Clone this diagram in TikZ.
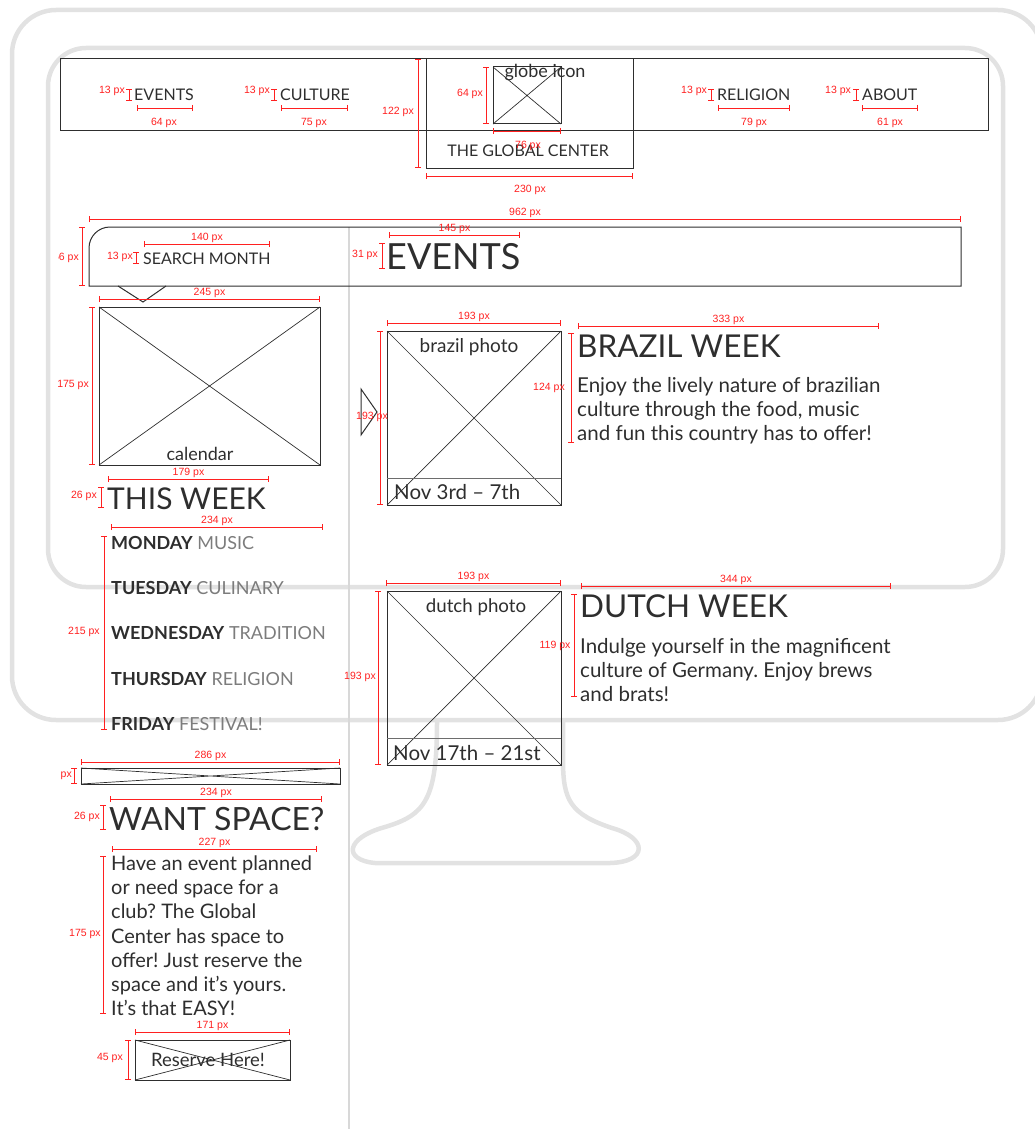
\documentclass[tikz,border=0pt]{standalone}
\usepackage{fontspec}
\setmainfont{Lato}
\newfontfamily\dimfont{Liberation Sans}
\usetikzlibrary{arrows.meta}
\definecolor{frame}{HTML}{E2E2E2}
\definecolor{ink}{HTML}{2E2E2E}
\definecolor{dimred}{HTML}{FF2020}
\definecolor{soft}{HTML}{7C7C7C}
\newcommand\fsz[1]{\fontsize{#1}{#1}\selectfont}
\frenchspacing

\tikzset{
  frameline/.style={draw=frame, line width=4.5},
  divider/.style={draw=frame!90!gray, line width=1.4},
  wire/.style={draw=ink, line width=1},
  cross/.style={draw=ink, line width=0.7},
  ph/.style={wire, inner sep=0, outer sep=0, anchor=north west},
  dimline/.style={draw=dimred, line width=0.8, {Bar[width=6]}-{Bar[width=6]}},
  dimlabel/.style={text=dimred, font=\dimfont\fsz{10.5}, inner sep=0},
  txt/.style={inner sep=0, text=ink},
  line/.style={txt, anchor=base west},
}

% placeholder box with a cross: name, x, y, width, height
\newcommand\xbox[5]{%
  \node[ph, minimum width=#4, minimum height=#5] (#1) at (#2,#3) {};
  \draw[cross] (#1.north west) -- (#1.south east) (#1.north east) -- (#1.south west);}
% horizontal dimension: x1, x2, y, label
\newcommand\hdim[4]{%
  \draw[dimline] (#1,#3) -- (#2,#3);
  \node[dimlabel, anchor=base] at ({(#1+#2)/2},#3-4) {#4};}
% vertical dimension: x, y1, y2
\newcommand\vdim[3]{\draw[dimline] (#1,#2) -- (#1,#3);}

\begin{document}
\begin{tikzpicture}[x=1pt,y=-1pt]
\useasboundingbox (0,0) rectangle (1035,1129);

% monitor outline
\draw[frameline, rounded corners=44] (12,10) rectangle (1042,720);
\draw[frameline, rounded corners=38] (48,48) rectangle (1003,587);
\draw[frameline] (437,722) .. controls (437,800) and (425,815) .. (385,827)
  .. controls (345,838) and (343,860) .. (375,863) -- (610,863)
  .. controls (648,862) and (648,838) .. (612,828)
  .. controls (570,814) and (563,800) .. (563,760) -- (563,722);

% column divider
\draw[divider] (349,227) -- (349,1129);

% ---------- navigation bar ----------
\node[ph, minimum width=928, minimum height=72] (nav) at (60,59) {};
\node[ph, minimum width=207, minimum height=109] (logo) at (426,59) {};
\xbox{globe}{493}{67}{68}{57}
\node[txt, anchor=base, font=\fsz{18}] (globetxt) at (545,78) {globe icon};
\node[txt, anchor=base, font=\fsz{16}] (title) at (528,156) {THE GLOBAL CENTER};

\node[line, font=\fsz{16}] (nevents) at (134,101) {EVENTS};
\node[line, font=\fsz{16}] (nculture) at (280,101) {CULTURE};
\node[line, font=\fsz{16}] (nreligion) at (717,101) {RELIGION};
\node[line, font=\fsz{16}] (nabout) at (862,101) {ABOUT};

\vdim{129}{89}{101}\node[dimlabel, anchor=base] at (112,94) {13 px};
\vdim{274}{89}{101}\node[dimlabel, anchor=base] at (257,94) {13 px};
\vdim{711}{89}{101}\node[dimlabel, anchor=base] at (694,94) {13 px};
\vdim{856}{89}{101}\node[dimlabel, anchor=base] at (838,94) {13 px};
\draw[dimline] (137,108) -- (193,108); \node[dimlabel, anchor=base] at (164,125) {64 px};
\draw[dimline] (281,108) -- (348,108); \node[dimlabel, anchor=base] at (314,125) {75 px};
\draw[dimline] (718,108) -- (790,108); \node[dimlabel, anchor=base] at (754,125) {79 px};
\draw[dimline] (862,108) -- (918,108); \node[dimlabel, anchor=base] at (890,125) {61 px};

\vdim{418}{59}{168}\node[dimlabel, anchor=base] at (398,115) {122 px};
\vdim{486}{67}{124}\node[dimlabel, anchor=base] at (470,97) {64 px};
\draw[dimline] (493,131) -- (561,131); \node[dimlabel, anchor=base] at (528,148) {76 px};
\draw[dimline] (426,176) -- (633,176); \node[dimlabel, anchor=base] at (530,192) {230 px};

% ---------- search / events bar ----------
\hdim{89}{961}{219}{962 px}
\draw[wire] (961,286) -- (89,286) [rounded corners=21] -- (89,227) [sharp corners] -- (961,227) -- cycle;
\draw[wire] (118,286) -- (143,302) -- (166,286);
\vdim{82}{227}{286}
\begin{scope}
  \clip (58,0) rectangle (1035,1129);
  \node[dimlabel, anchor=base east] at (79,260) {56 px};
  \node[dimlabel, anchor=base east] at (89,387) {175 px};
  \node[dimlabel, anchor=base east] at (72,777) {10 px};
\end{scope}
\vdim{136}{252}{264}\node[dimlabel, anchor=base] at (120,259) {13 px};
\node[line, font=\fsz{16}] (search) at (143,264) {SEARCH MONTH};
\hdim{144}{270}{244}{140 px}
\vdim{382}{243}{269}\node[dimlabel, anchor=base] at (365,257) {31 px};
\node[line, font=\fsz{36}] (events) at (386,269) {EVENTS};
\hdim{389}{520}{235}{145 px}

% ---------- calendar column ----------
\hdim{99}{320}{299}{245 px}
\xbox{cal}{99}{307}{221}{158}
\node[txt, anchor=base, font=\fsz{18}] (caltxt) at (200,460) {calendar};
\vdim{92}{307}{465}
\hdim{108}{269}{479}{179 px}
\vdim{101}{487}{508}\node[dimlabel, anchor=base] at (84,498) {26 px};
\node[line, font=\fsz{30}] (thisweek) at (107,509) {THIS WEEK};

\hdim{111}{323}{527}{234 px}
\vdim{104}{536}{730}\node[dimlabel, anchor=base] at (84,634) {215 px};
\node[line, font=\fsz{18}] (mon) at (111,549) {\textbf{MONDAY} \textcolor{soft}{MUSIC}};
\node[line, font=\fsz{18}] (tue) at (111,594) {\textbf{TUESDAY} \textcolor{soft}{CULINARY}};
\node[line, font=\fsz{18}] (wed) at (111,639) {\textbf{WEDNESDAY} \textcolor{soft}{TRADITION}};
\node[line, font=\fsz{18}] (thu) at (111,685) {\textbf{THURSDAY} \textcolor{soft}{RELIGION}};
\node[line, font=\fsz{18}] (fri) at (111,730) {\textbf{FRIDAY} \textcolor{soft}{FESTIVAL!}};

\hdim{81}{340}{762}{286 px}
\xbox{ad}{81}{768}{259}{16}
\vdim{74}{768}{784}
\hdim{110}{322}{799}{234 px}
\vdim{103}{805}{830}\node[dimlabel, anchor=base] at (87,819) {26 px};
\node[line, font=\fsz{32}] (want) at (109,830) {WANT SPACE?};
\hdim{112}{317}{849}{227 px}
\vdim{103}{856}{1014}\node[dimlabel, anchor=base] at (85,936) {175 px};
\node[line, font=\fsz{20}] (sp1) at (111,870) {Have an event planned};
\node[line, font=\fsz{20}] (sp2) at (111,894) {or need space for a};
\node[line, font=\fsz{20}] (sp3) at (111,918) {club? The Global};
\node[line, font=\fsz{20}] (sp4) at (111,943) {Center has space to};
\node[line, font=\fsz{20}] (sp5) at (111,967) {offer! Just reserve the};
\node[line, font=\fsz{20}] (sp6) at (111,991) {space and it’s yours.};
\node[line, font=\fsz{20}] (sp7) at (111,1015) {It’s that EASY!};
\hdim{135}{290}{1032}{171 px}
\xbox{reserve}{135}{1040}{155}{40}
\node[txt, font=\fsz{18.5}] (restxt) at (208,1060) {Reserve Here!};
\vdim{128}{1040}{1080}\node[dimlabel, anchor=base] at (110,1060) {45 px};

% ---------- event entries ----------
\draw[wire] (361,389) -- (377,412) -- (361,435) -- cycle;

\hdim{387}{561}{323}{193 px}
\xbox{brazil}{387}{331}{174}{174}
\draw[ink!70, line width=0.7] (387,478) -- (561,478);
\node[txt, anchor=base, font=\fsz{19}] (brtxt) at (469,352) {brazil photo};
\node[line, font=\fsz{20.5}] (brdate) at (394,499) {Nov 3rd – 7th};
\vdim{380}{331}{505}\node[dimlabel, anchor=base] at (372,419) {193 px};
\vdim{571}{333}{443}\node[dimlabel, anchor=base] at (549,390) {124 px};
\hdim{578}{879}{326}{333 px}
\node[line, font=\fsz{31.5}] (brhead) at (577,357) {BRAZIL WEEK};
\node[line, font=\fsz{20.5}] (br1) at (577,392) {Enjoy the lively nature of brazilian};
\node[line, font=\fsz{20.5}] (br2) at (577,416) {culture through the food, music};
\node[line, font=\fsz{20.5}] (br3) at (577,440) {and fun this country has to offer!};

\hdim{386}{561}{583}{193 px}
\xbox{dutch}{387}{591}{174}{174}
\draw[ink!70, line width=0.7] (387,738) -- (561,738);
\node[txt, anchor=base, font=\fsz{18.7}] (dutxt) at (476,612) {dutch photo};
\node[line, font=\fsz{20.5}] (dudate) at (393,760) {Nov 17th – 21st};
\vdim{378}{591}{765}\node[dimlabel, anchor=base] at (360,679) {193 px};
\vdim{574}{594}{697}\node[dimlabel, anchor=base] at (555,648) {119 px};
\hdim{581}{891}{586}{344 px}
\node[line, font=\fsz{31.5}] (duhead) at (580,617) {DUTCH WEEK};
\node[line, font=\fsz{20.5}] (du1) at (580,653) {Indulge yourself in the magnificent};
\node[line, font=\fsz{20.5}] (du2) at (580,677) {culture of Germany. Enjoy brews};
\node[line, font=\fsz{20.5}] (du3) at (580,701) {and brats!};
\end{tikzpicture}
\end{document}
